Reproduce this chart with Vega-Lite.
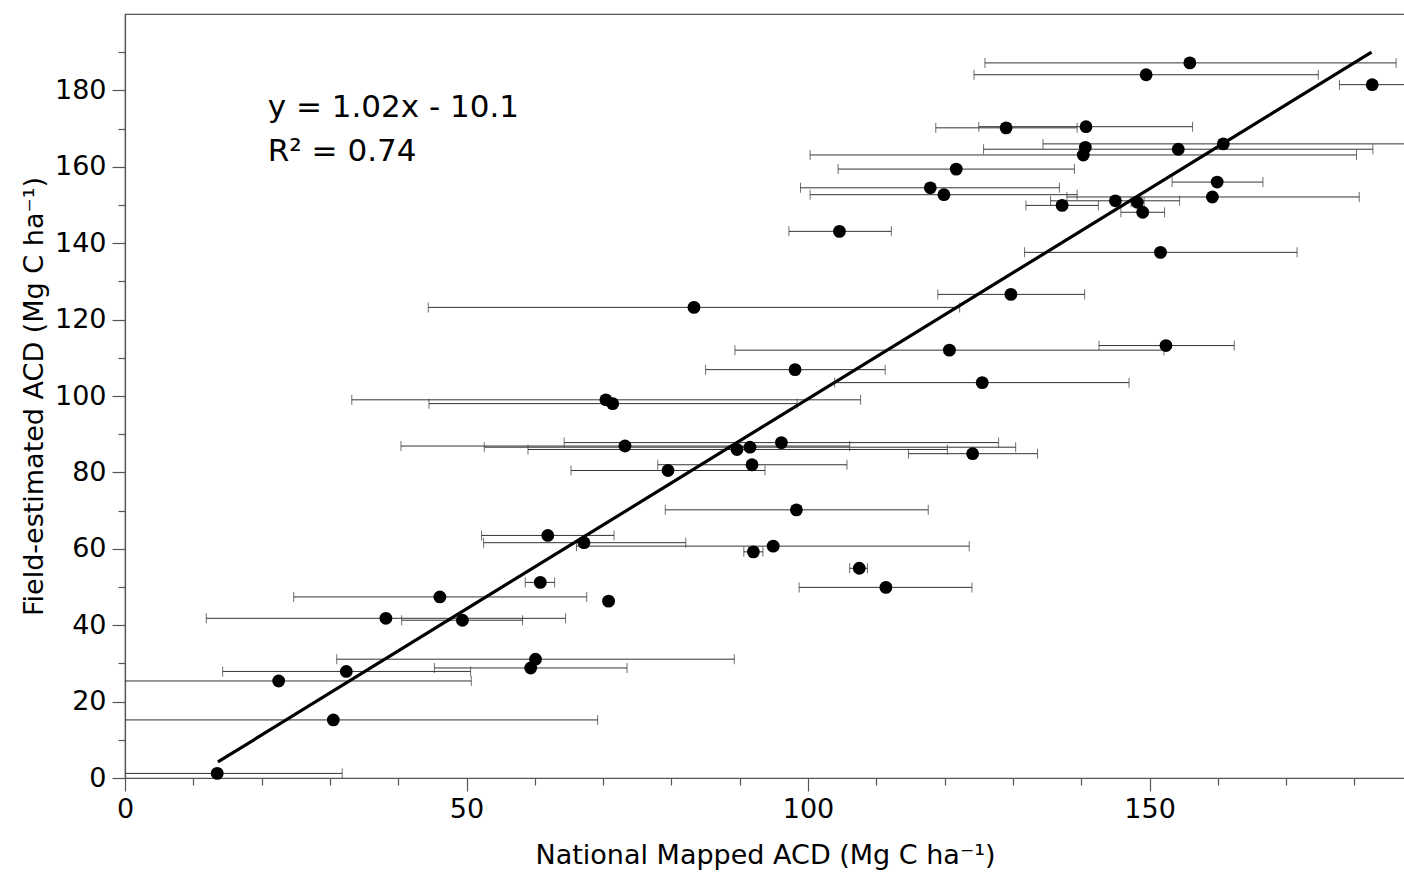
{
  "$schema": "https://vega.github.io/schema/vega-lite/v6.json",
  "width": 1280,
  "height": 764,
  "autosize": {"type": "none"},
  "padding": {"left": 125, "top": 14, "right": 0, "bottom": 95},
  "background": "white",
  "config": {
    "view": {"stroke": "#555", "strokeWidth": 1.2},
    "font": "DejaVu Sans",
    "axis": {
      "grid": false,
      "domainColor": "#555",
      "domainWidth": 1.2,
      "tickColor": "#555",
      "tickWidth": 1.2,
      "labelFont": "DejaVu Sans",
      "labelFontSize": 27,
      "labelColor": "black",
      "titleFont": "DejaVu Sans",
      "titleFontSize": 27,
      "titleFontWeight": "normal",
      "titleColor": "black",
      "labelOverlap": false,
      "labelFlush": false
    }
  },
  "datasets": {
    "pts": [
      {"x": 13.5, "y": 1.2, "xmin": -4.8, "xmax": 31.8},
      {"x": 22.5, "y": 25.4, "xmin": -5.7, "xmax": 50.7},
      {"x": 30.5, "y": 15.2, "xmin": -8.2, "xmax": 69.2},
      {"x": 32.4, "y": 27.9, "xmin": 14.3, "xmax": 50.6},
      {"x": 38.2, "y": 41.8, "xmin": 11.9, "xmax": 64.5},
      {"x": 46.1, "y": 47.4, "xmin": 24.7, "xmax": 67.6},
      {"x": 49.4, "y": 41.3, "xmin": 40.5, "xmax": 58.2},
      {"x": 59.4, "y": 28.8, "xmin": 45.3, "xmax": 73.5},
      {"x": 60.1, "y": 31.1, "xmin": 31.0, "xmax": 89.2},
      {"x": 60.8, "y": 51.2, "xmin": 58.6, "xmax": 62.9},
      {"x": 61.9, "y": 63.5, "xmin": 52.2, "xmax": 71.6},
      {"x": 67.2, "y": 61.6, "xmin": 52.5, "xmax": 82.1},
      {"x": 70.8, "y": 46.3, "xmin": 70.8, "xmax": 70.8},
      {"x": 70.4, "y": 99.0, "xmin": 33.2, "xmax": 107.7},
      {"x": 71.4, "y": 98.0, "xmin": 44.5, "xmax": 98.4},
      {"x": 73.2, "y": 86.9, "xmin": 40.4, "xmax": 106.1},
      {"x": 79.5, "y": 80.5, "xmin": 65.3, "xmax": 93.7},
      {"x": 83.3, "y": 123.2, "xmin": 44.4, "xmax": 122.2},
      {"x": 89.6, "y": 86.0, "xmin": 59.0, "xmax": 120.4},
      {"x": 91.5, "y": 86.6, "xmin": 52.6, "xmax": 130.4},
      {"x": 91.8, "y": 82.0, "xmin": 78.0, "xmax": 105.7},
      {"x": 92.0, "y": 59.2, "xmin": 90.6, "xmax": 93.4},
      {"x": 94.9, "y": 60.7, "xmin": 66.1, "xmax": 123.6},
      {"x": 96.1, "y": 87.8, "xmin": 64.3, "xmax": 127.9},
      {"x": 98.1, "y": 106.9, "xmin": 85.0, "xmax": 111.3},
      {"x": 98.3, "y": 70.2, "xmin": 79.1, "xmax": 117.6},
      {"x": 104.6, "y": 143.1, "xmin": 97.2, "xmax": 112.2},
      {"x": 107.5, "y": 54.9, "xmin": 106.1, "xmax": 108.7},
      {"x": 111.4, "y": 49.9, "xmin": 98.7, "xmax": 124.0},
      {"x": 117.9, "y": 154.5, "xmin": 98.9, "xmax": 136.8},
      {"x": 119.9, "y": 152.7, "xmin": 100.3, "xmax": 139.4},
      {"x": 120.7, "y": 112.0, "xmin": 89.3, "xmax": 152.1},
      {"x": 121.7, "y": 159.4, "xmin": 104.4, "xmax": 139.0},
      {"x": 124.1, "y": 84.9, "xmin": 114.7, "xmax": 133.6},
      {"x": 125.5, "y": 103.5, "xmin": 103.9, "xmax": 147.0},
      {"x": 129.0, "y": 170.2, "xmin": 118.7, "xmax": 139.4},
      {"x": 129.7, "y": 126.6, "xmin": 119.0, "xmax": 140.5},
      {"x": 137.2, "y": 149.9, "xmin": 131.9, "xmax": 142.5},
      {"x": 140.3, "y": 163.1, "xmin": 100.3, "xmax": 180.3},
      {"x": 140.6, "y": 165.1, "xmin": 140.6, "xmax": 140.6},
      {"x": 140.7, "y": 170.5, "xmin": 125.0, "xmax": 156.3},
      {"x": 145.0, "y": 151.1, "xmin": 135.5, "xmax": 154.4},
      {"x": 148.2, "y": 150.7, "xmin": 147.3, "xmax": 149.2},
      {"x": 149.0, "y": 148.1, "xmin": 145.8, "xmax": 152.2},
      {"x": 149.5, "y": 184.1, "xmin": 124.3, "xmax": 174.7},
      {"x": 151.6, "y": 137.6, "xmin": 131.7, "xmax": 171.6},
      {"x": 152.4, "y": 113.2, "xmin": 142.6, "xmax": 162.4},
      {"x": 154.2, "y": 164.6, "xmin": 125.7, "xmax": 182.7},
      {"x": 155.9, "y": 187.2, "xmin": 125.9, "xmax": 186.1},
      {"x": 159.2, "y": 152.1, "xmin": 137.9, "xmax": 180.7},
      {"x": 159.9, "y": 156.0, "xmin": 153.3, "xmax": 166.6},
      {"x": 160.8, "y": 166.0, "xmin": 134.4, "xmax": 187.5},
      {"x": 182.6, "y": 181.5, "xmin": 177.8, "xmax": 187.6}
    ],
    "fit": [
      {"x": 13.6, "y": 4.2},
      {"x": 182.5, "y": 190.0}
    ],
    "ann": [
      {"x": 20.9, "y": 173.1, "label": "y = 1.02x - 10.1"},
      {"x": 20.9, "y": 161.5, "label": "R² = 0.74"}
    ]
  },
  "layer": [
    {
      "data": {"name": "pts"},
      "mark": {"type": "rule", "color": "#333", "strokeWidth": 1, "clip": true},
      "encoding": {
        "x": {
          "field": "xmin", "type": "quantitative",
          "scale": {"domain": [0, 187.4], "nice": false, "zero": false},
          "axis": {
            "title": "National Mapped ACD (Mg C ha⁻¹)",
            "values": [0, 10, 20, 30, 40, 50, 60, 70, 80, 90, 100, 110, 120, 130, 140, 150, 160, 170, 180],
            "labelExpr": "datum.value % 50 === 0 ? datum.label : ''",
            "tickSize": {"condition": {"test": "datum.value % 50 === 0", "value": 13}, "value": 7},
            "labelPadding": 5,
            "titlePadding": 20
          }
        },
        "x2": {"field": "xmax"},
        "y": {
          "field": "y", "type": "quantitative",
          "scale": {"domain": [0, 200], "nice": false, "zero": false},
          "axis": {
            "title": "Field-estimated ACD (Mg C ha⁻¹)",
            "values": [0, 10, 20, 30, 40, 50, 60, 70, 80, 90, 100, 110, 120, 130, 140, 150, 160, 170, 180, 190],
            "labelExpr": "datum.value % 20 === 0 ? datum.label : ''",
            "tickSize": {"condition": {"test": "datum.value % 20 === 0", "value": 13}, "value": 7},
            "labelPadding": 6,
            "titlePadding": 6
          }
        }
      }
    },
    {
      "data": {"name": "pts"},
      "mark": {"type": "tick", "orient": "vertical", "size": 10, "thickness": 1, "color": "#333", "clip": true},
      "encoding": {
        "x": {"field": "xmin", "type": "quantitative"},
        "y": {"field": "y", "type": "quantitative"}
      }
    },
    {
      "data": {"name": "pts"},
      "mark": {"type": "tick", "orient": "vertical", "size": 10, "thickness": 1, "color": "#333", "clip": true},
      "encoding": {
        "x": {"field": "xmax", "type": "quantitative"},
        "y": {"field": "y", "type": "quantitative"}
      }
    },
    {
      "data": {"name": "fit"},
      "mark": {"type": "line", "color": "black", "strokeWidth": 3.2},
      "encoding": {
        "x": {"field": "x", "type": "quantitative"},
        "y": {"field": "y", "type": "quantitative"}
      }
    },
    {
      "data": {"name": "pts"},
      "mark": {"type": "circle", "color": "black", "opacity": 1, "size": 165},
      "encoding": {
        "x": {"field": "x", "type": "quantitative"},
        "y": {"field": "y", "type": "quantitative"}
      }
    },
    {
      "data": {"name": "ann"},
      "mark": {"type": "text", "align": "left", "baseline": "alphabetic", "fontSize": 31, "font": "DejaVu Sans", "color": "black"},
      "encoding": {
        "x": {"field": "x", "type": "quantitative"},
        "y": {"field": "y", "type": "quantitative"},
        "text": {"field": "label"}
      }
    }
  ]
}
